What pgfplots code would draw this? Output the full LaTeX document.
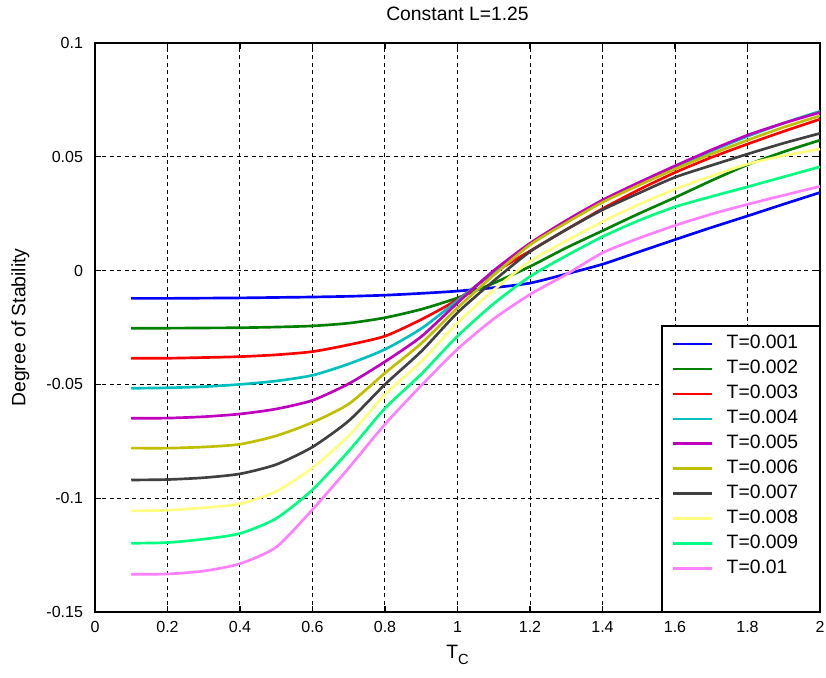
\documentclass[border=0pt]{standalone}
\usepackage{fontspec}
\setmainfont{Liberation Sans}
\usepackage{pgfplots}
\usepackage{pgfplotstable}
\pgfplotsset{compat=1.18}
\definecolor{c1}{rgb}{0,0,1}
\definecolor{c2}{rgb}{0,0.5,0}
\definecolor{c3}{rgb}{1,0,0}
\definecolor{c4}{rgb}{0,0.75,0.75}
\definecolor{c5}{rgb}{0.75,0,0.75}
\definecolor{c6}{rgb}{0.75,0.75,0}
\definecolor{c7}{rgb}{0.25,0.25,0.25}
\definecolor{c8}{rgb}{1,1,0.5}
\definecolor{c9}{rgb}{0,1,0.5}
\definecolor{c10}{rgb}{1,0.5,1}
\pgfplotstableread{
x   t1      t2      t3      t4      t5      t6      t7      t8      t9      t10
0.1 -0.0122 -0.0253 -0.0385 -0.0517 -0.0649 -0.0780 -0.0920 -0.1056 -0.1198 -0.1334
0.2 -0.0122 -0.0253 -0.0385 -0.0515 -0.0648 -0.0780 -0.0918 -0.1053 -0.1195 -0.1333
0.3 -0.0121 -0.0252 -0.0382 -0.0510 -0.0642 -0.0775 -0.0910 -0.1042 -0.1180 -0.1320
0.4 -0.0120 -0.0251 -0.0378 -0.0500 -0.0630 -0.0763 -0.0893 -0.1025 -0.1155 -0.1288
0.5 -0.0118 -0.0248 -0.0370 -0.0485 -0.0608 -0.0726 -0.0852 -0.0970 -0.1089 -0.1215
0.6 -0.0116 -0.0243 -0.0356 -0.0460 -0.0570 -0.0667 -0.0775 -0.0867 -0.0963 -0.1050
0.7 -0.0113 -0.0231 -0.0326 -0.0410 -0.0497 -0.0586 -0.0660 -0.0726 -0.0793 -0.0867
0.8 -0.0108 -0.0207 -0.0288 -0.0346 -0.0400 -0.0450 -0.0500 -0.0545 -0.0605 -0.0675
0.9 -0.0100 -0.0170 -0.0215 -0.0255 -0.0290 -0.0320 -0.0355 -0.0400 -0.0455 -0.0505
1.0 -0.0090 -0.0120 -0.0127 -0.0132 -0.0142 -0.0164 -0.0185 -0.0230 -0.0288 -0.0345
1.1 -0.0075 -0.0055 -0.0010 -0.0005  0.0000 -0.0020 -0.0045 -0.0085 -0.0145 -0.0212
1.2 -0.0055  0.0018  0.0086  0.0115  0.0120  0.0113  0.0083  0.0040 -0.0026 -0.0105
1.3 -0.0015  0.0100  0.0180  0.0215  0.0220  0.0210  0.0180  0.0130  0.0065 -0.0017
1.4  0.0028  0.0175  0.0272  0.0305  0.0310  0.0300  0.0267  0.0215  0.0149  0.0078
1.5  0.0082  0.0250  0.0355  0.0380  0.0387  0.0375  0.0340  0.0290  0.0220  0.0142
1.6  0.0136  0.0321  0.0431  0.0450  0.0460  0.0446  0.0410  0.0358  0.0280  0.0198
1.7  0.0189  0.0395  0.0497  0.0525  0.0530  0.0512  0.0462  0.0415  0.0325  0.0248
1.8  0.0240  0.0465  0.0556  0.0590  0.0595  0.0573  0.0512  0.0468  0.0368  0.0291
1.9  0.0292  0.0522  0.0612  0.0648  0.0648  0.0630  0.0560  0.0505  0.0412  0.0331
2.0  0.0343  0.0573  0.0665  0.0700  0.0695  0.0680  0.0603  0.0534  0.0456  0.0370
}\data
\begin{document}
\begin{tikzpicture}
\useasboundingbox (-71.25pt,-49.5pt) rectangle (548.25pt,459pt);
\begin{axis}[
  at={(0pt,0pt)}, anchor=south west,
  scale only axis, width=543.75pt, height=426.75pt,
  xmin=0, xmax=2, ymin=-0.15, ymax=0.1,
  xtick={0,0.2,0.4,0.6,0.8,1,1.2,1.4,1.6,1.8,2},
  xticklabels={0,0.2,0.4,0.6,0.8,1,1.2,1.4,1.6,1.8,2},
  ytick={-0.15,-0.1,-0.05,0,0.05,0.1},
  yticklabels={-0.15,-0.1,-0.05,0,0.05,0.1},
  grid=major,
  major grid style={black, dash pattern=on 3pt off 2.6pt, line width=0.75pt},
  tick align=inside, tick pos=both, major tick length=4.5pt,
  tick style={black, line width=0.8pt},
  axis line style={black, line width=0.9pt},
  every tick label/.append style={font=\fontsize{12}{14}\selectfont},
  xticklabel style={yshift=-3.5pt},
  yticklabel style={xshift=-5.5pt},
  title={Constant L=1.25},
  title style={font=\fontsize{14.5}{16}\selectfont, at={(axis description cs:0.5,1)}, anchor=center, yshift=15.75pt},
  xlabel={T\raisebox{-0.55ex}{\fontsize{11}{12}\selectfont C}},
  ylabel={Degree of Stability},
  label style={font=\fontsize{14.5}{16}\selectfont},
  xlabel style={at={(axis description cs:0.5,-0.075)}, anchor=center},
  ylabel style={at={(axis description cs:-0.103,0.5)}, anchor=center},
  legend cell align=left,
  legend style={at={(rel axis cs:1,0)}, anchor=south east, draw=black, line width=0.9pt, fill=white,
    font=\fontsize{14.5}{16}\selectfont, inner xsep=7.5pt, inner ysep=6.5pt, row sep=4.7pt,
    nodes={inner sep=0pt, text height=10.5pt, text depth=3.5pt, text width=62pt}},
  /tikz/every odd column/.append style={column sep=10pt},
  legend image code/.code={\draw[#1, line width=2pt] (0pt,0pt) -- (29pt,0pt);},
  every axis plot/.append style={line width=2pt, smooth, tension=0.4},
]
\addplot[c1]  table[x=x,y=t1]  {\data}; \addlegendentry{T=0.001}
\addplot[c2]  table[x=x,y=t2]  {\data}; \addlegendentry{T=0.002}
\addplot[c3]  table[x=x,y=t3]  {\data}; \addlegendentry{T=0.003}
\addplot[c4]  table[x=x,y=t4]  {\data}; \addlegendentry{T=0.004}
\addplot[c5]  table[x=x,y=t5]  {\data}; \addlegendentry{T=0.005}
\addplot[c6]  table[x=x,y=t6]  {\data}; \addlegendentry{T=0.006}
\addplot[c7]  table[x=x,y=t7]  {\data}; \addlegendentry{T=0.007}
\addplot[c8]  table[x=x,y=t8]  {\data}; \addlegendentry{T=0.008}
\addplot[c9]  table[x=x,y=t9]  {\data}; \addlegendentry{T=0.009}
\addplot[c10] table[x=x,y=t10] {\data}; \addlegendentry{T=0.01}
\addlegendimage{empty legend}\addlegendentry{}
\end{axis}
\end{tikzpicture}
\end{document}
